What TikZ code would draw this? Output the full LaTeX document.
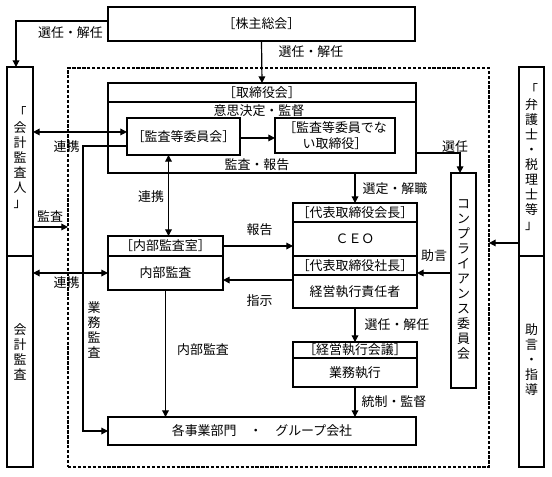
\documentclass[tikz,border=0pt]{standalone}
\usepackage{fontspec}
\setmainfont{Noto Sans CJK JP}
\usetikzlibrary{arrows.meta}
\tikzset{box/.style={draw, line width=0.9pt, inner sep=0pt, outer sep=0pt}}
\tikzset{empty/.style={draw=none, fill=none, inner sep=0pt, outer sep=0pt}}
\tikzset{arr/.style={line width=0.9pt, -{Triangle[length=5pt, width=5pt]}}}
\tikzset{dblarr/.style={line width=0.9pt, {Triangle[length=5pt, width=5pt]}-{Triangle[length=5pt, width=5pt]}}}
\tikzset{vtext/.style={empty, align=center, font=\fontsize{9.7}{11.25}\selectfont}}

\begin{document}
\begin{tikzpicture}[x=0.75pt, y=-0.75pt, every node/.style={font=\fontsize{9.7}{11.6}\selectfont}]
  \useasboundingbox (0,0) rectangle (552,476);

  \node (grp) [box, line width=0.8pt, dash pattern=on 2.5pt off 1.2pt, minimum width=315.75pt, minimum height=299.25pt] at (278.5, 267.5) {};

  \node (kabu) [box, minimum width=230.25pt, minimum height=25.5pt] at (261.5, 24) {［株主総会］};

  \node (kaikei1) [box, minimum width=19.5pt, minimum height=141.75pt] at (20, 161.5) {};
  \node (kaikei2) [box, minimum width=19.5pt, minimum height=158.25pt] at (20, 361.5) {};
  \node (tkaikei1) [vtext] at (20, 158) {「\\会\\計\\監\\査\\人\\」};
  \node (tkaikei2) [vtext] at (20, 352) {会\\計\\監\\査};

  \node (bengo1) [box, minimum width=18.75pt, minimum height=141.75pt] at (531.5, 161.5) {};
  \node (bengo2) [box, minimum width=18.75pt, minimum height=158.25pt] at (531.5, 361.5) {};
  \node (tbengo1) [vtext] at (531.5, 157) {「\\弁\\護\\士\\・\\税\\理\\士\\等\\」};
  \node (tbengo2) [vtext] at (531.5, 360) {助\\言\\・\\指\\導};

  \node (tori) [box, minimum width=231pt, minimum height=67.5pt] at (262, 128) {};
  \node (torihead) [box, minimum width=231pt, minimum height=14.25pt] at (262, 92.5) {［取締役会］};
  \node (tkettei) [empty] at (259, 111) {意思決定・監督};
  \node (thoukoku) [empty] at (257, 165) {監査・報告};
  \node (kansa) [box, minimum width=84.75pt, minimum height=27.75pt] at (183.5, 136.5) {［監査等委員会］};
  \node (hitori) [box, align=center, minimum width=90pt, minimum height=26.25pt] at (335, 135.5) {［監査等委員でな\\い取締役］};

  \node (naibuhead) [box, minimum width=86.25pt, minimum height=15pt] at (165.5, 246) {［内部監査室］};
  \node (naibubody) [box, minimum width=86.25pt, minimum height=25.5pt] at (165.5, 273) {内部監査};

  \node (kaichou) [box, minimum width=93pt, minimum height=14.25pt] at (355, 212.5) {［代表取締役会長］};
  \node (ceo) [box, minimum width=93pt, minimum height=25.5pt] at (355, 239) {ＣＥＯ};
  \node (shachou) [box, minimum width=93pt, minimum height=14.25pt] at (355, 265.5) {［代表取締役社長］};
  \node (shikko) [box, minimum width=93pt, minimum height=24.75pt] at (355, 291.5) {経営執行責任者};

  \node (keieihead) [box, minimum width=93pt, minimum height=12pt] at (355, 350) {［経営執行会議］};
  \node (keieibody) [box, minimum width=93pt, minimum height=21.75pt] at (355, 372.5) {業務執行};

  \node (comp) [box, minimum width=18.75pt, minimum height=161.25pt] at (463.5, 280.5) {};
  \node (tcomp) [vtext] at (463.5, 280) {コ\\ン\\プ\\ラ\\イ\\ア\\ン\\ス\\委\\員\\会};

  \node (kakujigyo) [box, minimum width=231pt, minimum height=21pt] at (262, 431) {各事業部門　・　グループ会社};

  \coordinate (r0) at ([yshift=2.25pt]kabu.west);
  \coordinate (r0b) at ([xshift=-3pt]kaikei1.north);
  \coordinate (r1) at ([yshift=3.4pt]kansa.west);
  \coordinate (r2) at ([yshift=-7.1pt]kansa.west);
  \coordinate (gyo) at (83, 300);
  \coordinate (r3) at ([xshift=-11.25pt]kansa.south);
  \coordinate (r4) at ([yshift=8.6pt]shikko.west);
  \coordinate (r5) at ([yshift=-18.75pt]tori.east);
  \coordinate (r5b) at ([xshift=-2.6pt]comp.north);
  \coordinate (r6) at ([yshift=-5.6pt]shachou.east);
  \coordinate (r7) at ([yshift=-49.1pt]kaikei1.east);
  \coordinate (r8) at ([yshift=-61.1pt]bengo1.west);
  \coordinate (r9) at ([yshift=-1.1pt]kansa.east);

  \draw [arr] (r0) -| (r0b);
  \draw (kabu.south) edge[arr] (torihead.north);
  \draw (r1) edge[dblarr] (r1 -| kaikei1.east);
  \draw [arr] (r2) -| (gyo) |- (kakujigyo.west);
  \draw (r9) edge[arr] (r9 -| hitori.west);
  \draw (r3) edge[dblarr] (r3 |- naibuhead.north);
  \draw (naibubody.west) edge[dblarr] (naibubody.west -| kaikei2.east);
  \draw (r7) edge[arr] (r7 -| grp.west);
  \draw (naibubody.south) edge[arr] (naibubody.south |- kakujigyo.north);
  \draw (naibuhead.east) edge[arr] (naibuhead.east -| ceo.west);
  \draw (r4) edge[arr] (r4 -| naibubody.east);
  \draw (kaichou.north |- tori.south) edge[arr] (kaichou.north);
  \draw [arr] (r5) -| (r5b);
  \draw (r6 -| comp.west) edge[arr] (r6);
  \draw (r8) edge[arr] (r8 -| grp.east);
  \draw (shikko.south) edge[arr] (keieihead.north);
  \draw (keieibody.south) edge[arr] (keieibody.south |- kakujigyo.north);

  \node (lsennin1) [empty] at (70.5, 33) {選任・解任};
  \node (lsennin2) [empty] at (311, 52) {選任・解任};
  \node (lrenkei1) [empty] at (66.5, 147) {連携};
  \node (lrenkei2) [empty] at (151, 197) {連携};
  \node (lrenkei3) [empty] at (66.5, 283) {連携};
  \node (lkansa) [empty] at (50, 216) {監査};
  \node (lgyomu) [vtext] at (94, 330) {業\\務\\監\\査};
  \node (lnaibu) [empty] at (203, 350) {内部監査};
  \node (lhoukoku) [empty] at (259.5, 230) {報告};
  \node (lshiji) [empty] at (259.5, 301) {指示};
  \node (lsentei) [empty] at (395, 189) {選定・解職};
  \node (lsennin3) [empty] at (455, 147) {選任};
  \node (ljogen) [empty] at (434, 256) {助言};
  \node (lsennin4) [empty] at (397, 325) {選任・解任};
  \node (ltousei) [empty] at (394, 402) {統制・監督};
\end{tikzpicture}
\end{document}
